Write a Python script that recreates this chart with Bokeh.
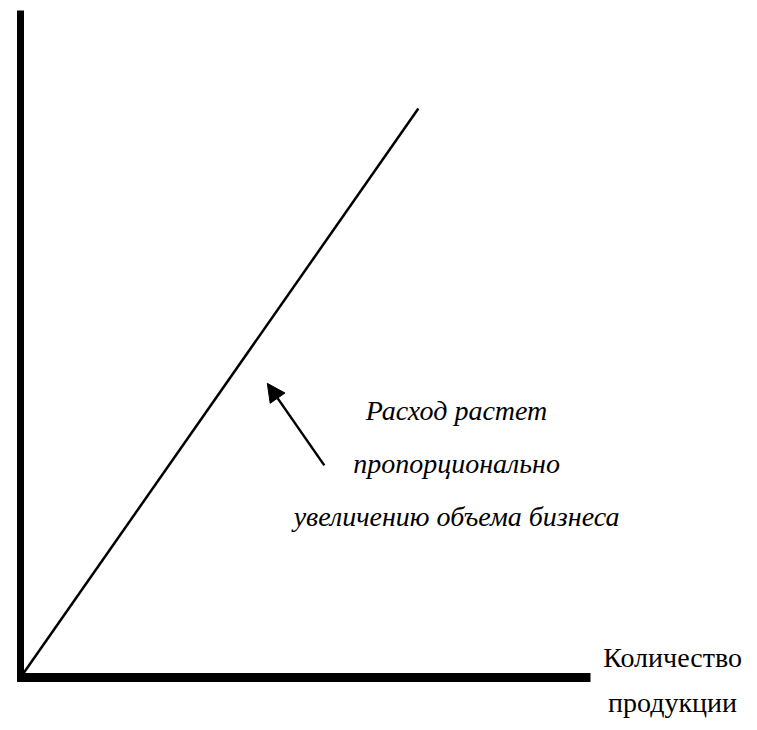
from bokeh.plotting import figure
from bokeh.models import Range1d, Label, Arrow, NormalHead
from bokeh.embed import file_html
from bokeh.resources import INLINE

# --- data (conceptual chart: expense grows proportionally to output) ---
quantity = [0, 69.8]          # production volume
expense = [0, 85.3]           # expense
note_lines = ["Расход растет", "пропорционально", "увеличению объема бизнеса"]
axis_label_lines = ["Количество", "продукции"]
arrow_from = (53.3, 31.8)
arrow_to = (43.3, 44.1)

W, H = 749, 722
ox, oy = 20, 677          # where data (0, 0) sits on the canvas
x_px = 5.7                # pixels per x unit
y_px = 6.67               # pixels per y unit
p = figure(width=W, height=H, output_backend="svg", toolbar_location=None,
           x_range=Range1d(-ox / x_px, (W - ox) / x_px),
           y_range=Range1d(-(H - oy) / y_px, (oy) / y_px),
           min_border=0)
p.outline_line_color = None
p.axis.visible = False
p.xgrid.visible = False
p.ygrid.visible = False
p.background_fill_color = "white"
p.border_fill_color = "white"

# axes drawn as thick black lines
p.segment(x0=[-0.6], y0=[0], x1=[100], y1=[0], line_color="black", line_width=9)
p.segment(x0=[0], y0=[-0.6], x1=[0], y1=[100], line_color="black", line_width=7)

p.line(quantity, expense, line_color="black", line_width=2.5)

p.add_layout(Arrow(end=NormalHead(size=18, fill_color="black", line_color="black"),
                   x_start=arrow_from[0], y_start=arrow_from[1],
                   x_end=arrow_to[0], y_end=arrow_to[1],
                   line_color="black", line_width=2.5))

note_y = [40.0, 32.1, 24.1]
for txt, yy in zip(note_lines, note_y):
    p.add_layout(Label(x=76.5, y=yy, text=txt, text_align="center",
                       text_baseline="alphabetic", text_font="Liberation Serif",
                       text_font_style="italic", text_font_size="28px",
                       text_color="black"))

lab_y = [3.0, -3.7]
for txt, yy in zip(axis_label_lines, lab_y):
    p.add_layout(Label(x=114.4, y=yy, text=txt, text_align="center",
                       text_baseline="alphabetic", text_font="Liberation Serif",
                       text_font_size="28px", text_color="black"))

open("out.html", "w").write(file_html(p, INLINE))
